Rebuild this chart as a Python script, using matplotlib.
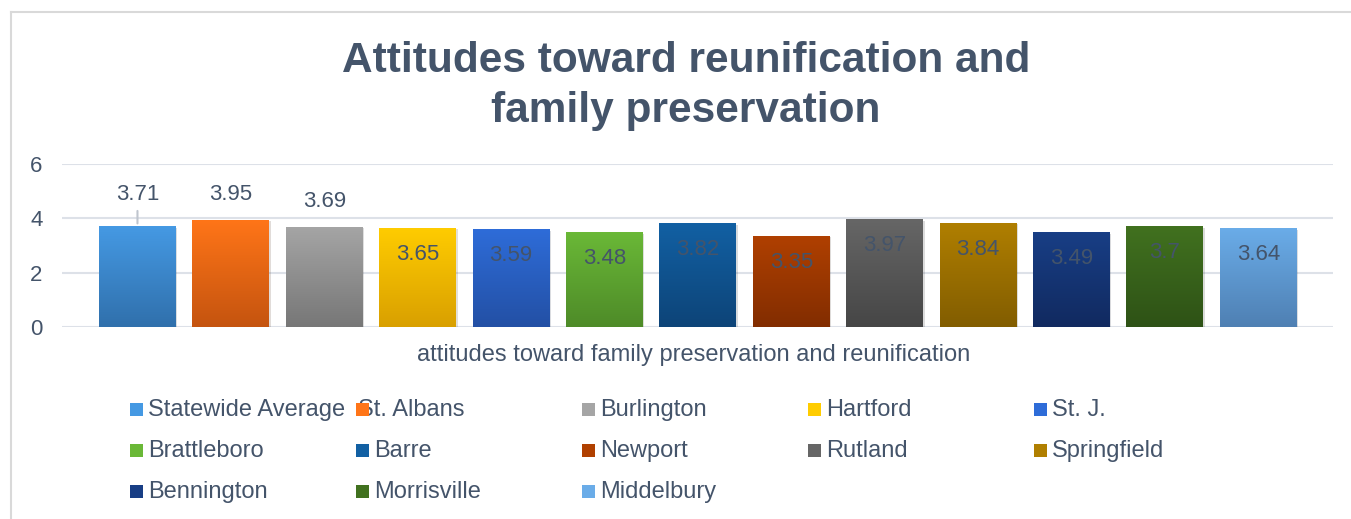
"""Attitudes toward reunification and family preservation, by district.

Bar chart rebuilt in matplotlib; writes out.png.
"""

import matplotlib.pyplot as plt
import matplotlib.patheffects as pe
import numpy as np
from matplotlib.colors import to_rgb
from matplotlib.lines import Line2D
from matplotlib.patches import Rectangle

SITES = ["Statewide Average", "St. Albans", "Burlington", "Hartford", "St. J.",
         "Brattleboro", "Barre", "Newport", "Rutland", "Springfield",
         "Bennington", "Morrisville", "Middelbury"]
SCORES = [3.71, 3.95, 3.69, 3.65, 3.59, 3.48, 3.82, 3.35, 3.97, 3.84, 3.49, 3.70, 3.64]

# gradient fill per bar: top colour, bottom colour
TOP_COLORS = ["#4599E3", "#FF7518", "#A5A5A5", "#FFCC00", "#2E6CD8", "#6AB837",
              "#1260A3", "#B04000", "#666666", "#B07F00", "#183E85", "#41711F", "#6AACE8"]
BOTTOM_COLORS = ["#3070AC", "#C5540F", "#777777", "#D9A000", "#2350A5", "#4E8B28",
                 "#0D4478", "#822D00", "#464646", "#825D00", "#112A60", "#2E5216", "#4F80B3"]

TITLE = "Attitudes toward reunification and\nfamily preservation"
XLABEL = "attitudes toward family preservation and reunification"
YTICKS = [0, 2, 4, 6]

TEXT = "#44546A"
GRID = "#DDE1E8"
W, H = 1351, 519

plt.rcParams["font.family"] = ["Liberation Sans", "DejaVu Sans"]


def fx(px):
    return px / W


def fy(px):
    return 1 - px / H


def main() -> None:
    fig = plt.figure(figsize=(W / 100, H / 100), dpi=100)
    ax = fig.add_axes([fx(62), fy(327), fx(1333) - fx(62), fy(164) - fy(327)])

    x = np.arange(len(SCORES))
    width = 0.824
    bars = ax.bar(x, SCORES, width=width, color=BOTTOM_COLORS, zorder=2)

    shadow = [pe.SimplePatchShadow(offset=(1, -1), alpha=0.15), pe.Normal()]
    for i, bar in enumerate(bars):
        bar.set_path_effects(shadow)
        grad = np.linspace(to_rgb(TOP_COLORS[i]), to_rgb(BOTTOM_COLORS[i]), 64)[:, None, :]
        img = ax.imshow(grad, extent=(x[i] - width / 2, x[i] + width / 2, 0, SCORES[i]),
                        aspect="auto", interpolation="bilinear", zorder=3)
        img.set_clip_path(bar)

    # data labels: first three sit above the bar, the rest inside near the top
    for i, v in enumerate(SCORES):
        if i < 3:
            dy = 22.5 if i == 0 else 18
        else:
            dy = -19
        ax.annotate(f"{v:g}", (x[i], v), xytext=(0, dy), textcoords="offset points",
                    ha="center", va="center", fontsize=16, color=TEXT, zorder=5)
    # leader line for the first label
    ax.annotate("", (x[0], SCORES[0]), xytext=(0, 11), textcoords="offset points",
                arrowprops=dict(arrowstyle="-", color="#BFC5CE", lw=1.5,
                                shrinkA=0, shrinkB=2), zorder=4)

    ax.set_xlim(-0.808, 12.8)
    ax.set_ylim(0, 6)
    ax.set_yticks(YTICKS)
    ax.set_xticks([])
    ax.yaxis.grid(True, color=GRID, lw=1.5, zorder=0)
    ax.set_axisbelow(True)
    for s in ax.spines.values():
        s.set_visible(False)
    ax.tick_params(axis="y", length=0, pad=14, labelsize=16, labelcolor=TEXT)

    fig.text(fx(686), fy(86), TITLE, ha="center", va="center", fontsize=30.5,
             fontweight="bold", color=TEXT, linespacing=1.3)
    fig.text(fx(694), fy(355), XLABEL, ha="center", va="center", fontsize=17, color=TEXT)

    # legend laid out row by row in five fixed-width columns
    for i, name in enumerate(SITES):
        row, col = divmod(i, 5)
        mx = 130 + 226 * col
        my = 409 + 41 * row
        tx = mx + 2 if name == "St. Albans" else mx + 18
        fig.text(fx(tx), fy(my + 1), name, ha="left", va="center", fontsize=17, color=TEXT)
        fig.add_artist(Rectangle((fx(mx), fy(my + 6.5)), fx(13), 13 / H,
                                 transform=fig.transFigure,
                                 facecolor=TOP_COLORS[i], edgecolor="none", zorder=5))

    # chart frame (top and left edges are inside the crop)
    fig.add_artist(Line2D([fx(11), fx(11)], [0, fy(12)], transform=fig.transFigure,
                          color="#D9D9D9", lw=1.5))
    fig.add_artist(Line2D([fx(11), 1], [fy(12), fy(12)], transform=fig.transFigure,
                          color="#D9D9D9", lw=1.5))

    fig.savefig("out.png", dpi=100)
    plt.close(fig)


if __name__ == "__main__":
    main()
